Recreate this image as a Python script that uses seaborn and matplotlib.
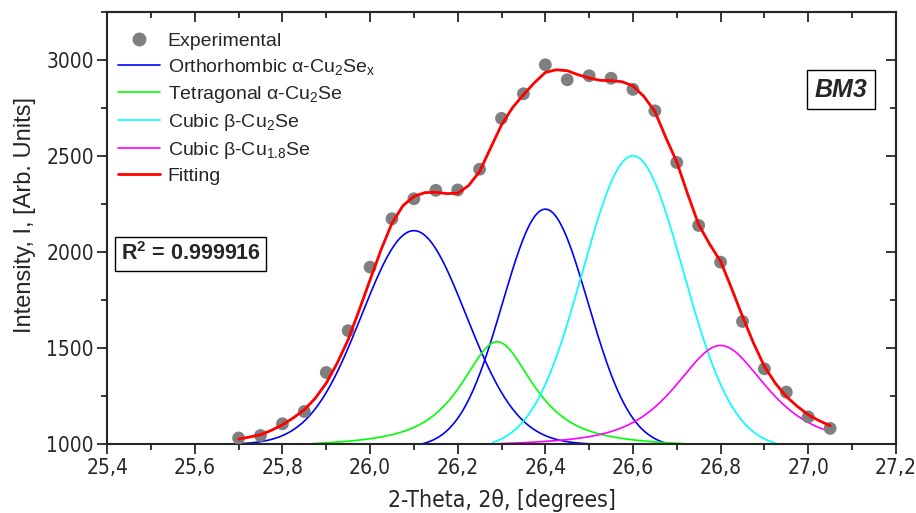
#libraries
import numpy as np
import pandas as pd
import seaborn as sns
import matplotlib.pyplot as plt
from matplotlib.ticker import MultipleLocator, FuncFormatter
from matplotlib.lines import Line2D

##experimental points (2-theta, intensity)
two_theta = [25.70, 25.75, 25.80, 25.85, 25.90, 25.95, 26.00, 26.05, 26.10, 26.15,
             26.20, 26.25, 26.30, 26.35, 26.40, 26.45, 26.50, 26.55, 26.60, 26.65,
             26.70, 26.75, 26.80, 26.85, 26.90, 26.95, 27.00, 27.05]
intensity = [1030, 1043, 1104, 1168, 1371, 1589, 1920, 2172, 2276, 2320,
             2322, 2430, 2695, 2823, 2974, 2896, 2917, 2904, 2846, 2734,
             2465, 2137, 1946, 1637, 1390, 1269, 1140, 1080]

##fitting curve
fit_theta = [25.700, 25.725, 25.750, 25.775, 25.800, 25.825, 25.850, 25.875, 25.900, 25.925,
             25.950, 25.975, 26.000, 26.025, 26.050, 26.075, 26.100, 26.125, 26.150, 26.175,
             26.200, 26.225, 26.250, 26.275, 26.300, 26.325, 26.350, 26.375, 26.400, 26.425,
             26.450, 26.475, 26.500, 26.525, 26.550, 26.575, 26.600, 26.625, 26.650, 26.675,
             26.700, 26.725, 26.750, 26.775, 26.800, 26.825, 26.850, 26.875, 26.900, 26.925,
             26.950, 26.975, 27.000, 27.025, 27.050]
fit_intensity = [1024, 1035, 1047, 1070, 1099, 1135, 1177, 1237, 1316, 1420,
                 1542, 1695, 1854, 2010, 2149, 2240, 2288, 2308, 2310, 2303,
                 2305, 2345, 2418, 2540, 2661, 2750, 2818, 2880, 2934, 2948,
                 2943, 2922, 2905, 2893, 2891, 2886, 2864, 2809, 2731, 2595,
                 2468, 2300, 2141, 2040, 1950, 1810, 1663, 1525, 1403, 1315,
                 1246, 1195, 1151, 1120, 1094]

##fitted peak components
peak_names = [r"Orthorhombic α-Cu$_2$Se$_x$", r"Tetragonal α-Cu$_2$Se",
              r"Cubic β-Cu$_2$Se", r"Cubic β-Cu$_{1.8}$Se"]
peak_colors = ["#0000ff", "#00ff00", "#00ffff", "#ff00ff"]
baseline = 1000
# orthorhombic has two reflections drawn in the same colour
comp_group = [0, 0, 1, 2, 3]
comp_center = [26.10, 26.40, 26.29, 26.60, 26.80]
comp_height = [1110, 1222, 531, 1500, 512]
comp_hwhm = [0.140, 0.115, 0.100, 0.135, 0.125]
comp_eta = [0.0, 0.0, 0.85, 0.0, 0.7]
comp_start = [25.70, 26.12, 25.87, 26.28, 26.29]
comp_end = [26.50, 26.68, 26.72, 26.93, 27.05]
comp_cut = [0.40, 0.28, 0.43, 0.33, 0.51]   # distance where the drawn peak meets the baseline


def pseudo_voigt(x, c, w, eta):
    d = x - c
    g = np.exp(-np.log(2) * (d / w) ** 2)
    l = 1.0 / (1.0 + (d / w) ** 2)
    return eta * l + (1 - eta) * g


sns.set_style("ticks")
plt.rcParams['font.family'] = ['Liberation Sans', 'DejaVu Sans']
plt.rcParams['mathtext.fontset'] = 'custom'
plt.rcParams['mathtext.rm'] = 'Liberation Sans'
plt.rcParams['mathtext.bf'] = 'Liberation Sans:bold'
plt.rcParams['mathtext.default'] = 'regular'

fig = plt.figure(figsize=(9.16, 5.13), dpi=100)
ax = fig.add_axes([0.117, 0.135, 0.861, 0.842])

exp_df = pd.DataFrame({"theta": two_theta, "I": intensity})
sns.scatterplot(data=exp_df, x="theta", y="I", ax=ax, color="#7f7f7f", s=85,
                edgecolor="none", zorder=3, legend=False)

for i in range(len(comp_center)):
    xs = np.linspace(comp_start[i], comp_end[i], 300)
    edge = pseudo_voigt(comp_center[i] + comp_cut[i], comp_center[i], comp_hwhm[i], comp_eta[i])
    prof = (pseudo_voigt(xs, comp_center[i], comp_hwhm[i], comp_eta[i]) - edge) / (1 - edge)
    ys = baseline + comp_height[i] * np.clip(prof, 0, None)
    sns.lineplot(x=xs, y=ys, ax=ax, color=peak_colors[comp_group[i]], lw=1.2,
                 sort=False, estimator=None, zorder=2)

fit_df = pd.DataFrame({"theta": fit_theta, "I": fit_intensity})
sns.lineplot(data=fit_df, x="theta", y="I", ax=ax, color="#ff0000", lw=2.0,
             sort=False, estimator=None, zorder=4)

ax.set_xlim(25.4, 27.2)
ax.set_ylim(1000, 3250)
ax.xaxis.set_major_locator(MultipleLocator(0.2))
ax.xaxis.set_minor_locator(MultipleLocator(0.1))
ax.yaxis.set_major_locator(MultipleLocator(500))
ax.yaxis.set_minor_locator(MultipleLocator(250))
ax.xaxis.set_major_formatter(FuncFormatter(lambda v, p: f"{v:.1f}".replace(".", ",")))
ax.tick_params(which='major', length=7, width=1.3, direction='out', labelsize=15)
ax.tick_params(which='minor', length=4, width=1.3, direction='out')
ax.tick_params(axis='y', pad=2.5)
for lab in ax.get_xticklabels() + ax.get_yticklabels():
    lab.set_family('DejaVu Sans')
    lab.set_stretch('condensed')

top = ax.secondary_xaxis('top')
top.xaxis.set_major_locator(MultipleLocator(0.2))
top.xaxis.set_minor_locator(MultipleLocator(0.1))
top.tick_params(which='major', direction='in', length=7, width=1.3, labeltop=False)
top.tick_params(which='minor', direction='in', length=4, width=1.3)
right = ax.secondary_yaxis('right')
right.yaxis.set_major_locator(MultipleLocator(500))
right.yaxis.set_minor_locator(MultipleLocator(250))
right.tick_params(which='major', direction='in', length=7, width=1.3, labelright=False)
right.tick_params(which='minor', direction='in', length=4, width=1.3)
for s in ax.spines.values():
    s.set_linewidth(1.5)
top.spines['top'].set_linewidth(1.5)
right.spines['right'].set_linewidth(1.5)

ax.set_xlabel("2-Theta, 2θ, [degrees]", fontsize=16.5, family='DejaVu Sans',
              stretch='condensed', labelpad=8)
ax.set_ylabel("Intensity, I, [Arb. Units]", fontsize=17)
ax.yaxis.set_label_coords(-0.09, 0.53)

handles = [Line2D([], [], ls='none', marker='o', color="#7f7f7f", markersize=9)]
labels = ["Experimental"]
for name, col in zip(peak_names, peak_colors):
    handles.append(Line2D([], [], color=col, lw=1.2))
    labels.append(name)
handles.append(Line2D([], [], color="#ff0000", lw=2.0))
labels.append("Fitting")
ax.legend(handles, labels, loc='upper left', bbox_to_anchor=(-0.004, 0.985), frameon=False,
          fontsize=14, handlelength=2.2, handletextpad=0.38, labelspacing=0.36,
          borderaxespad=0.3)

ax.text(0.106, 0.44, r"R$^{\mathbf{2}}$ = 0.999916", transform=ax.transAxes,
        fontsize=15.5, fontweight='bold', ha='center', va='center',
        bbox=dict(boxstyle='square,pad=0.25', fc='white', ec='black', lw=1))
ax.text(0.93, 0.82, "BM3", transform=ax.transAxes, fontsize=18, fontweight='bold',
        fontstyle='italic', ha='center', va='center',
        bbox=dict(boxstyle='square,pad=0.3', fc='white', ec='black', lw=1))

fig.savefig("out.png", dpi=100)
